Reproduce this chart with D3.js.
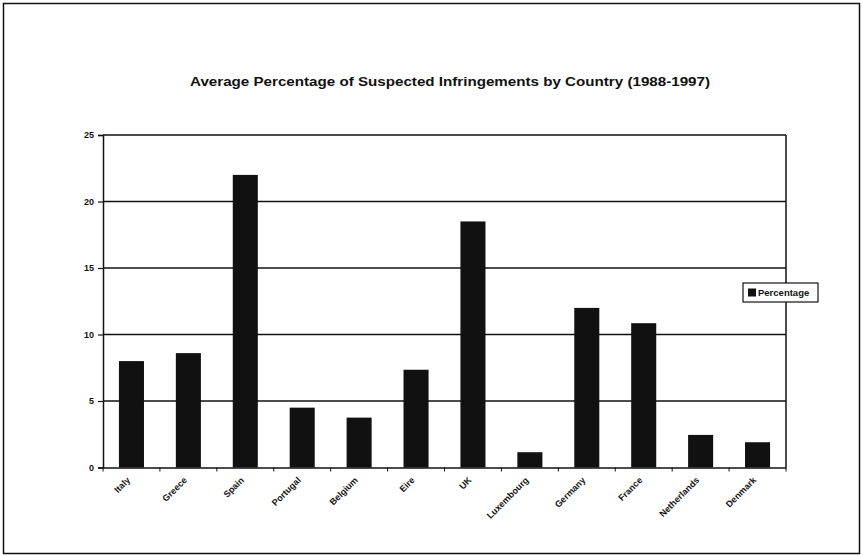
<!DOCTYPE html>
<html>
<head>
    <meta charset="utf-8">
    <title>Suspected Infringements</title>
    <style>
        body { margin: 0; background: #fff; }
        svg { display: block; }
    </style>
</head>
<body>
<div id="chart"></div>
<script src="https://d3js.org/d3.v7.min.js"></script>
<script>
    const countries = ["Italy", "Greece", "Spain", "Portugal", "Belgium", "Eire", "UK",
        "Luxembourg", "Germany", "France", "Netherlands", "Denmark"];
    const percentage = [8.0, 8.6, 22.0, 4.5, 3.75, 7.35, 18.5, 1.15, 12.0, 10.85, 2.45, 1.9];
    const yTicks = [0, 5, 10, 15, 20, 25];
    const seriesName = "Percentage";
    const title = "Average Percentage of Suspected Infringements by Country (1988-1997)";

    const W = 863, H = 556;
    const plot = { left: 103, right: 786, top: 135, bottom: 467.5 };
    const INK = "#111";

    const svg = d3.select("#chart").append("svg")
        .attr("width", W)
        .attr("height", H)
        .style("font-family", "'Liberation Sans', Arial, sans-serif");

    // outer frame
    svg.append("rect")
        .attr("x", 3.5).attr("y", 3.5)
        .attr("width", W - 7).attr("height", H - 6)
        .attr("fill", "none")
        .attr("stroke", INK)
        .attr("stroke-width", 1.5);

    // title
    svg.append("text")
        .attr("x", 450)
        .attr("y", 86)
        .attr("text-anchor", "middle")
        .attr("textLength", 520)
        .attr("lengthAdjust", "spacingAndGlyphs")
        .style("font-size", "13px")
        .style("font-weight", "bold")
        .attr("fill", INK)
        .text(title);

    const x = d3.scaleBand()
        .domain(countries)
        .range([plot.left, plot.right])
        .paddingInner(0.56)
        .paddingOuter(0.28);

    const y = d3.scaleLinear()
        .domain([0, 25])
        .range([plot.bottom, plot.top]);

    // gridlines
    svg.append("g")
        .selectAll("line")
        .data(yTicks.filter(d => d > 0))
        .join("line")
        .attr("x1", plot.left)
        .attr("x2", plot.right)
        .attr("y1", d => y(d))
        .attr("y2", d => y(d))
        .attr("stroke", INK)
        .attr("stroke-width", 1.5);

    // right border of plot area
    svg.append("line")
        .attr("x1", plot.right).attr("x2", plot.right)
        .attr("y1", plot.top).attr("y2", plot.bottom)
        .attr("stroke", INK)
        .attr("stroke-width", 1.5);

    // bars
    svg.append("g")
        .selectAll("rect")
        .data(countries)
        .join("rect")
        .attr("x", d => x(d))
        .attr("width", x.bandwidth())
        .attr("y", (d, i) => y(percentage[i]))
        .attr("height", (d, i) => y(0) - y(percentage[i]))
        .attr("fill", INK);

    // y axis
    const yAxis = svg.append("g")
        .attr("transform", "translate(" + plot.left + ",0)")
        .call(d3.axisLeft(y).tickValues(yTicks).tickSize(5).tickPadding(4));
    yAxis.select(".domain").attr("stroke", INK).attr("stroke-width", 1.5);
    yAxis.selectAll(".tick line").attr("stroke", INK).attr("stroke-width", 1.2);
    yAxis.selectAll("text")
        .style("font-size", "9px")
        .style("font-weight", "bold")
        .attr("fill", INK);

    // x axis line (labels drawn below, rotated)
    const xAxis = svg.append("g")
        .attr("transform", "translate(0," + plot.bottom + ")")
        .call(d3.axisBottom(x).tickSize(0).tickSizeOuter(0).tickFormat(""));
    xAxis.select(".domain").attr("stroke", INK).attr("stroke-width", 1.5);

    // rotated category labels, using an explicit matrix for the -45 degree turn
    const c = Math.SQRT1_2;
    svg.append("g")
        .selectAll("text")
        .data(countries)
        .join("text")
        .attr("transform", d => {
            const tx = x(d) + x.bandwidth() / 2 - 3;
            const ty = plot.bottom + 11;
            return "matrix(" + c + "," + (-c) + "," + c + "," + c + "," + tx + "," + ty + ")";
        })
        .attr("text-anchor", "end")
        .attr("dy", "0.35em")
        .style("font-size", "9px")
        .style("font-weight", "bold")
        .attr("fill", INK)
        .text(d => d);

    // category separator ticks on x axis
    const step = x.step();
    svg.append("g")
        .selectAll("line")
        .data(d3.range(countries.length + 1))
        .join("line")
        .attr("x1", i => plot.left + i * step)
        .attr("x2", i => plot.left + i * step)
        .attr("y1", plot.bottom)
        .attr("y2", plot.bottom + 4)
        .attr("stroke", INK)
        .attr("stroke-width", 1);

    // legend (truncated at the right as in the original)
    const legend = svg.append("g").attr("transform", "translate(743,283)");
    svg.append("clipPath").attr("id", "legclip")
        .append("rect").attr("x", 0).attr("y", -2).attr("width", 68).attr("height", 24);
    legend.append("rect")
        .attr("x", 0).attr("y", 0)
        .attr("width", 75).attr("height", 19)
        .attr("fill", "#fff")
        .attr("stroke", INK)
        .attr("stroke-width", 1.2);
    legend.append("rect")
        .attr("x", 5).attr("y", 5.5)
        .attr("width", 8).attr("height", 8)
        .attr("fill", INK);
    legend.append("text")
        .attr("x", 15)
        .attr("y", 13)
        .attr("clip-path", "url(#legclip)")
        .style("font-size", "9.5px")
        .style("font-weight", "bold")
        .attr("fill", INK)
        .text(seriesName);
</script>
</body>
</html>
